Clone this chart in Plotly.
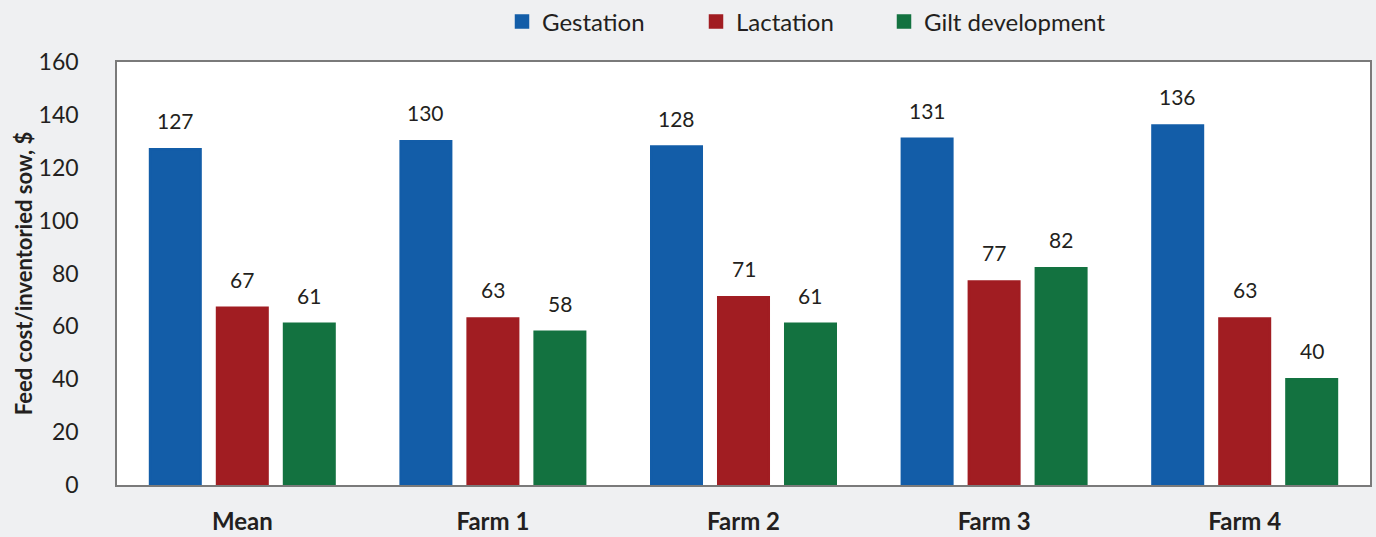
import plotly.graph_objects as go

categories = ["Mean", "Farm 1", "Farm 2", "Farm 3", "Farm 4"]
series_names = ["Gestation", "Lactation", "Gilt development"]
gestation = [127, 130, 128, 131, 136]
lactation = [67, 63, 71, 77, 63]
gilt = [61, 58, 61, 82, 40]
colors = ["#135da8", "#a11d22", "#137240"]
y_ticks = [0, 20, 40, 60, 80, 100, 120, 140, 160]

series_values = [gestation, lactation, gilt]
BARGAP = 0.198
FONT = "Lato"
TXT = "#231f20"
legend_ids = ["legend", "legend2", "legend3"]
legend_x = [502, 696, 884]

fig = go.Figure()
for name, vals, col, lg in zip(series_names, series_values, colors, legend_ids):
    fig.add_trace(go.Bar(name=name, x=categories, y=vals, marker_color=col,
                         marker_line_width=2.5, marker_line_color=col, legend=lg))

slot = (1 - BARGAP) / 3
for j, vals in enumerate(series_values):
    for i, v in enumerate(vals):
        fig.add_annotation(x=i + (j - 1) * slot, y=v, xref="x", yref="y",
                           text=str(v), showarrow=False, yanchor="bottom",
                           yshift=14, font=dict(family=FONT, size=21, color=TXT))

fig.update_layout(
    width=1376, height=537,
    paper_bgcolor="#eff0f2", plot_bgcolor="#ffffff",
    margin=dict(l=117, r=6, t=62, b=52, autoexpand=False),
    barmode="group", bargap=BARGAP, bargroupgap=0.246,
    font=dict(family=FONT, color=TXT),
    showlegend=True,
)
for lg, lx in zip(legend_ids, legend_x):
    fig.update_layout({lg: dict(orientation="h", xref="container", x=lx / 1376, xanchor="left",
                                yref="container", y=1 - 22 / 537, yanchor="middle",
                                font=dict(size=24, family=FONT, color=TXT),
                                itemwidth=30, bgcolor="rgba(0,0,0,0)")})
fig.update_xaxes(showline=True, linecolor="#7a7a7a", linewidth=1.5, mirror=True,
                 ticks="", tickfont=dict(size=24, family=FONT, weight="bold", color=TXT),
                 ticklabelstandoff=14)
fig.update_yaxes(range=[0, 160], tickvals=y_ticks, showgrid=False, zeroline=False,
                 showline=True, linecolor="#7a7a7a", linewidth=1.5, mirror=True,
                 ticks="", tickfont=dict(size=23, family=FONT, color=TXT), ticklabelstandoff=32,
                 title=dict(text="Feed cost/inventoried sow, $", standoff=0,
                            font=dict(size=22, family=FONT, weight="bold", color=TXT)))

fig.write_html("out.html", config={"displayModeBar": False},
               post_script="document.body.style.margin='0';")
